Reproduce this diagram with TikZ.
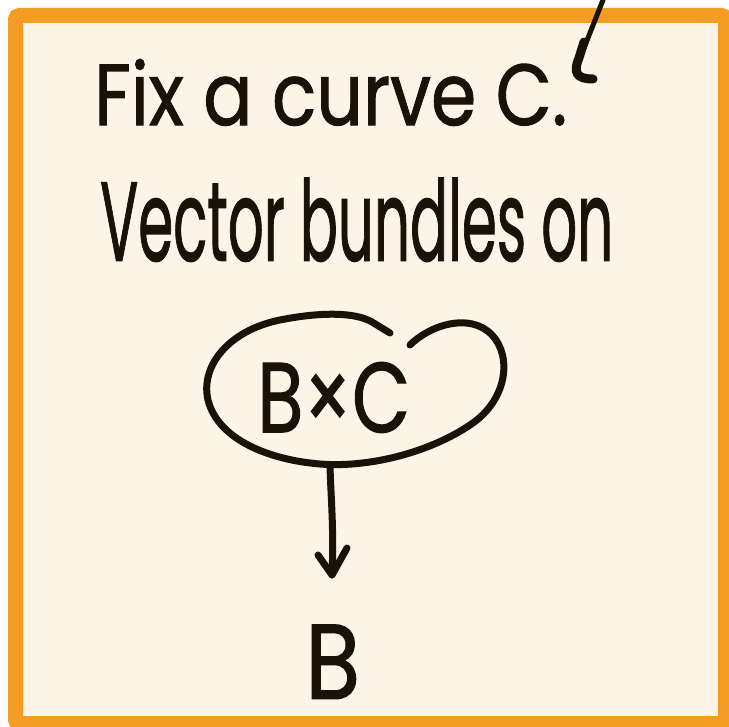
\documentclass[tikz,border=0pt]{standalone}
\usepackage{fontspec}
\setmainfont{Poppins}
\newfontfamily\handfont[FakeBold=1.2]{Poppins}
\usepackage{graphicx}
\definecolor{frameorange}{HTML}{F59C24}
\definecolor{paper}{HTML}{FDF4E7}
\definecolor{ink}{HTML}{1A1107}
\tikzset{
  hand/.style={text=ink, inner sep=0pt, anchor=south west, font=\handfont},
  stroke/.style={draw=ink, line width=7pt, line cap=round, line join=round},
}
\begin{document}
\begin{tikzpicture}[x=1pt,y=-1pt]
\useasboundingbox (0,0) rectangle (729,727);
\fill[white] (0,0) rectangle (729,727);
\draw[frameorange, fill=paper, line width=15pt, rounded corners=4pt]
  (15.5,15.5) rectangle (725.5,723.5);
% handwritten lines
\node[hand] (line1) at (94,126) {\resizebox{473pt}{66pt}{Fix a curve C.}};
\node[hand] (line2) at (100,262) {\resizebox{513pt}{83pt}{Vector bundles on}};
% blob around B x C
\node[hand] (bc) at (257,433) {\resizebox{153pt}{70pt}{B×C}};
\draw[stroke] (410,345) .. controls (430,325) and (470,312) .. (492,335)
  .. controls (512,356) and (508,400) .. (470,425)
  .. controls (430,452) and (370,468) .. (320,464)
  .. controls (270,460) and (218,440) .. (208,400)
  .. controls (200,365) and (230,330) .. (280,320)
  .. controls (320,312) and (355,312) .. (372,322)
  -- (390,333);
\coordinate (arrowstart) at (330,466);
\node[hand] (b) at (305,699) {\resizebox{55pt}{74pt}{B}};
\draw[stroke] (arrowstart) .. controls (331,500) and (334,530) .. (332,575);
\draw[stroke] (318,555) -- (332,575) -- (347,548);
% pen stroke at top right
\coordinate (penend) at (603,0);
\draw[stroke, line width=5pt] (penend) -- (584,48);
\draw[stroke, line width=9pt] (584,42) -- (579,58) .. controls (573,72) and (576,79) .. (593,79);
\end{tikzpicture}
\end{document}
